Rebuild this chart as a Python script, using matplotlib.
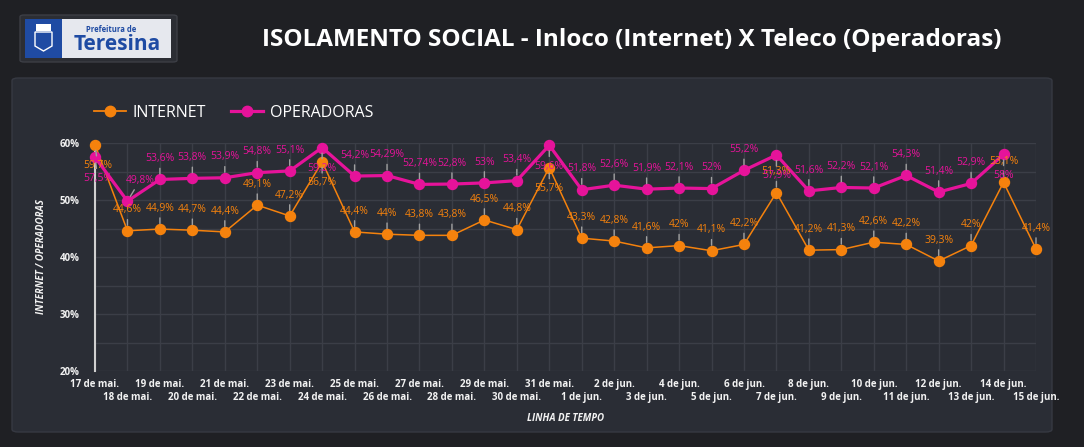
import numpy as np
import matplotlib.pyplot as plt
from matplotlib.patches import Rectangle, FancyBboxPatch, Polygon
from matplotlib.lines import Line2D

# dados
datas = ['17 de mai.', '18 de mai.', '19 de mai.', '20 de mai.', '21 de mai.', '22 de mai.',
         '23 de mai.', '24 de mai.', '25 de mai.', '26 de mai.', '27 de mai.', '28 de mai.',
         '29 de mai.', '30 de mai.', '31 de mai.', '1 de jun.', '2 de jun.', '3 de jun.',
         '4 de jun.', '5 de jun.', '6 de jun.', '7 de jun.', '8 de jun.', '9 de jun.',
         '10 de jun.', '11 de jun.', '12 de jun.', '13 de jun.', '14 de jun.', '15 de jun.']
internet = [59.7, 44.6, 44.9, 44.7, 44.4, 49.1, 47.2, 56.7, 44.4, 44.0, 43.8, 43.8, 46.5, 44.8,
            55.7, 43.3, 42.8, 41.6, 42.0, 41.1, 42.2, 51.3, 41.2, 41.3, 42.6, 42.2, 39.3, 42.0,
            53.1, 41.4]
operadoras = [57.5, 49.8, 53.6, 53.8, 53.9, 54.8, 55.1, 59.2, 54.2, 54.29, 52.74, 52.8, 53.0,
              53.4, 59.6, 51.8, 52.6, 51.9, 52.1, 52.0, 55.2, 57.9, 51.6, 52.2, 52.1, 54.3,
              51.4, 52.9, 58.0]
yticks = [20, 30, 40, 50, 60]

LARANJA = '#f5820d'
ROSA = '#e6139a'
FUNDO = '#1f2024'
PAINEL = '#2a2d35'
GRADE = '#3b3e47'
TEXTO = '#f2f2f2'

plt.rcParams['font.family'] = ['Open Sans', 'DejaVu Sans']

W, H = 1084, 447
def fx(x): return x / W
def fy(y): return 1 - y / H

fig = plt.figure(figsize=(W / 100, H / 100), dpi=100, facecolor=FUNDO)

# painel
fig.patches.append(FancyBboxPatch((fx(12), fy(432)), fx(1052) - fx(12), fy(78) - fy(432),
                                  boxstyle='round,pad=0,rounding_size=0.006',
                                  transform=fig.transFigure, facecolor=PAINEL,
                                  edgecolor='#363942', lw=1, zorder=-5))

# logo
fig.patches.append(FancyBboxPatch((fx(20), fy(62)), fx(177) - fx(20), fy(15) - fy(62),
                                  boxstyle='round,pad=0,rounding_size=0.004',
                                  transform=fig.transFigure, facecolor='#2c2e34',
                                  edgecolor='#3c3e45', lw=1, zorder=-4))
fig.patches.append(Rectangle((fx(25), fy(58)), fx(171) - fx(25), fy(19) - fy(58),
                             transform=fig.transFigure, facecolor='#e6e8ee', zorder=-3))
fig.patches.append(Rectangle((fx(25), fy(58)), fx(62) - fx(25), fy(19) - fy(58),
                             transform=fig.transFigure, facecolor='#1f4ba3', zorder=-2))
escudo = [(35, 32), (52, 32), (52, 46), (43.5, 51), (35, 46)]
fig.patches.append(Polygon([(fx(a), fy(b)) for a, b in escudo], closed=True,
                           transform=fig.transFigure, facecolor='none',
                           edgecolor='white', lw=1, zorder=-1))
fig.patches.append(Rectangle((fx(36), fy(31)), fx(51) - fx(36), fy(24) - fy(31),
                             transform=fig.transFigure, facecolor='white', zorder=-1))
fig.text(fx(111), fy(30), 'Prefeitura de', fontsize=5.5, fontweight='bold',
         color='#1f4ba3', ha='center', va='center')
fig.text(fx(117), fy(44), 'Teresina', fontsize=15, fontweight='bold',
         color='#1f4ba3', ha='center', va='center')

# titulo
fig.text(fx(632), fy(40), 'ISOLAMENTO SOCIAL - Inloco (Internet) X Teleco (Operadoras)',
         fontsize=17.5, fontweight='bold', color='white', ha='center', va='center')

ax = fig.add_axes([fx(95), fy(371), fx(1036) - fx(95), fy(143) - fy(371)])
ax.set_facecolor(PAINEL)
ax.patch.set_alpha(0)

x = np.arange(len(datas))
ax.plot(x, internet, color=LARANJA, lw=1.1, marker='o', ms=7.2, clip_on=False, zorder=4)
ax.plot(np.arange(len(operadoras)), operadoras, color=ROSA, lw=2.3, marker='o', ms=7.2,
        clip_on=False, zorder=5)

ax.set_xlim(0, len(datas) - 1)
ax.set_ylim(20, 60)
ax.set_yticks(yticks)
ax.set_yticklabels([f'{v}%' for v in yticks])
ax.set_yticks(np.arange(25, 60, 10), minor=True)
# datas em duas linhas alternadas
ax.set_xticks(x[0::2])
ax.set_xticklabels(datas[0::2])
ax.set_xticks(x[1::2], minor=True)
ax.set_xticklabels(datas[1::2], minor=True)
ax.grid(True, which='both', color=GRADE, lw=1)
ax.tick_params(axis='both', which='both', length=0, colors=TEXTO)
ax.tick_params(axis='x', which='major', labelsize=7, pad=6)
ax.tick_params(axis='x', which='minor', labelsize=7, pad=15)
ax.tick_params(axis='y', labelsize=7, pad=11)
for lbl in (ax.get_xticklabels() + ax.get_xticklabels(minor=True)
            + ax.get_yticklabels()):
    lbl.set_fontweight('bold')
for s in ['top', 'right', 'bottom']:
    ax.spines[s].set_visible(False)
ax.spines['left'].set_color('#d0d0d0')
ax.spines['left'].set_linewidth(1.5)

ax.set_ylabel('INTERNET / OPERADORAS', fontsize=7, fontweight='bold', style='italic',
              color=TEXTO, labelpad=9)
ax.set_xlabel('LINHA DE TEMPO', fontsize=7, fontweight='bold', style='italic',
              color=TEXTO, labelpad=7)


def fmt(v):
    s = f'{v:.2f}'.rstrip('0').rstrip('.')
    return s.replace('.', ',') + '%'


# rótulos: acima, exceto nos picos
abaixo_int = {0, 7, 14}
abaixo_op = {0, 7, 14, 21, 28}
desloc_x = {('op', 1): 9, ('int', 0): 2, ('op', 0): 2}

for nome, serie, cor, abaixo in [('int', internet, LARANJA, abaixo_int),
                                 ('op', operadoras, ROSA, abaixo_op)]:
    for i, v in enumerate(serie):
        dy = -15 if i in abaixo else 15
        dx = desloc_x.get((nome, i), 0)
        ax.annotate(fmt(v), (i, v), xytext=(dx, dy), textcoords='offset points',
                    ha='center', va='center', fontsize=7.5, color=cor,
                    annotation_clip=False, zorder=6,
                    arrowprops=dict(arrowstyle='-', color='#a0a0a0', lw=1,
                                    shrinkA=1, shrinkB=4))

# legenda
handles = [Line2D([], [], color=LARANJA, lw=1.3, marker='o', ms=7.5),
           Line2D([], [], color=ROSA, lw=2.3, marker='o', ms=7.5)]
fig.legend(handles, ['INTERNET', 'OPERADORAS'], loc='center left',
           bbox_to_anchor=(fx(94), fy(113)), ncol=2, frameon=False, fontsize=11.5,
           labelcolor='white', handlelength=2.0, handletextpad=0.4,
           columnspacing=1.6, borderpad=0, borderaxespad=0)

fig.savefig('out.png', dpi=100, facecolor=FUNDO)
